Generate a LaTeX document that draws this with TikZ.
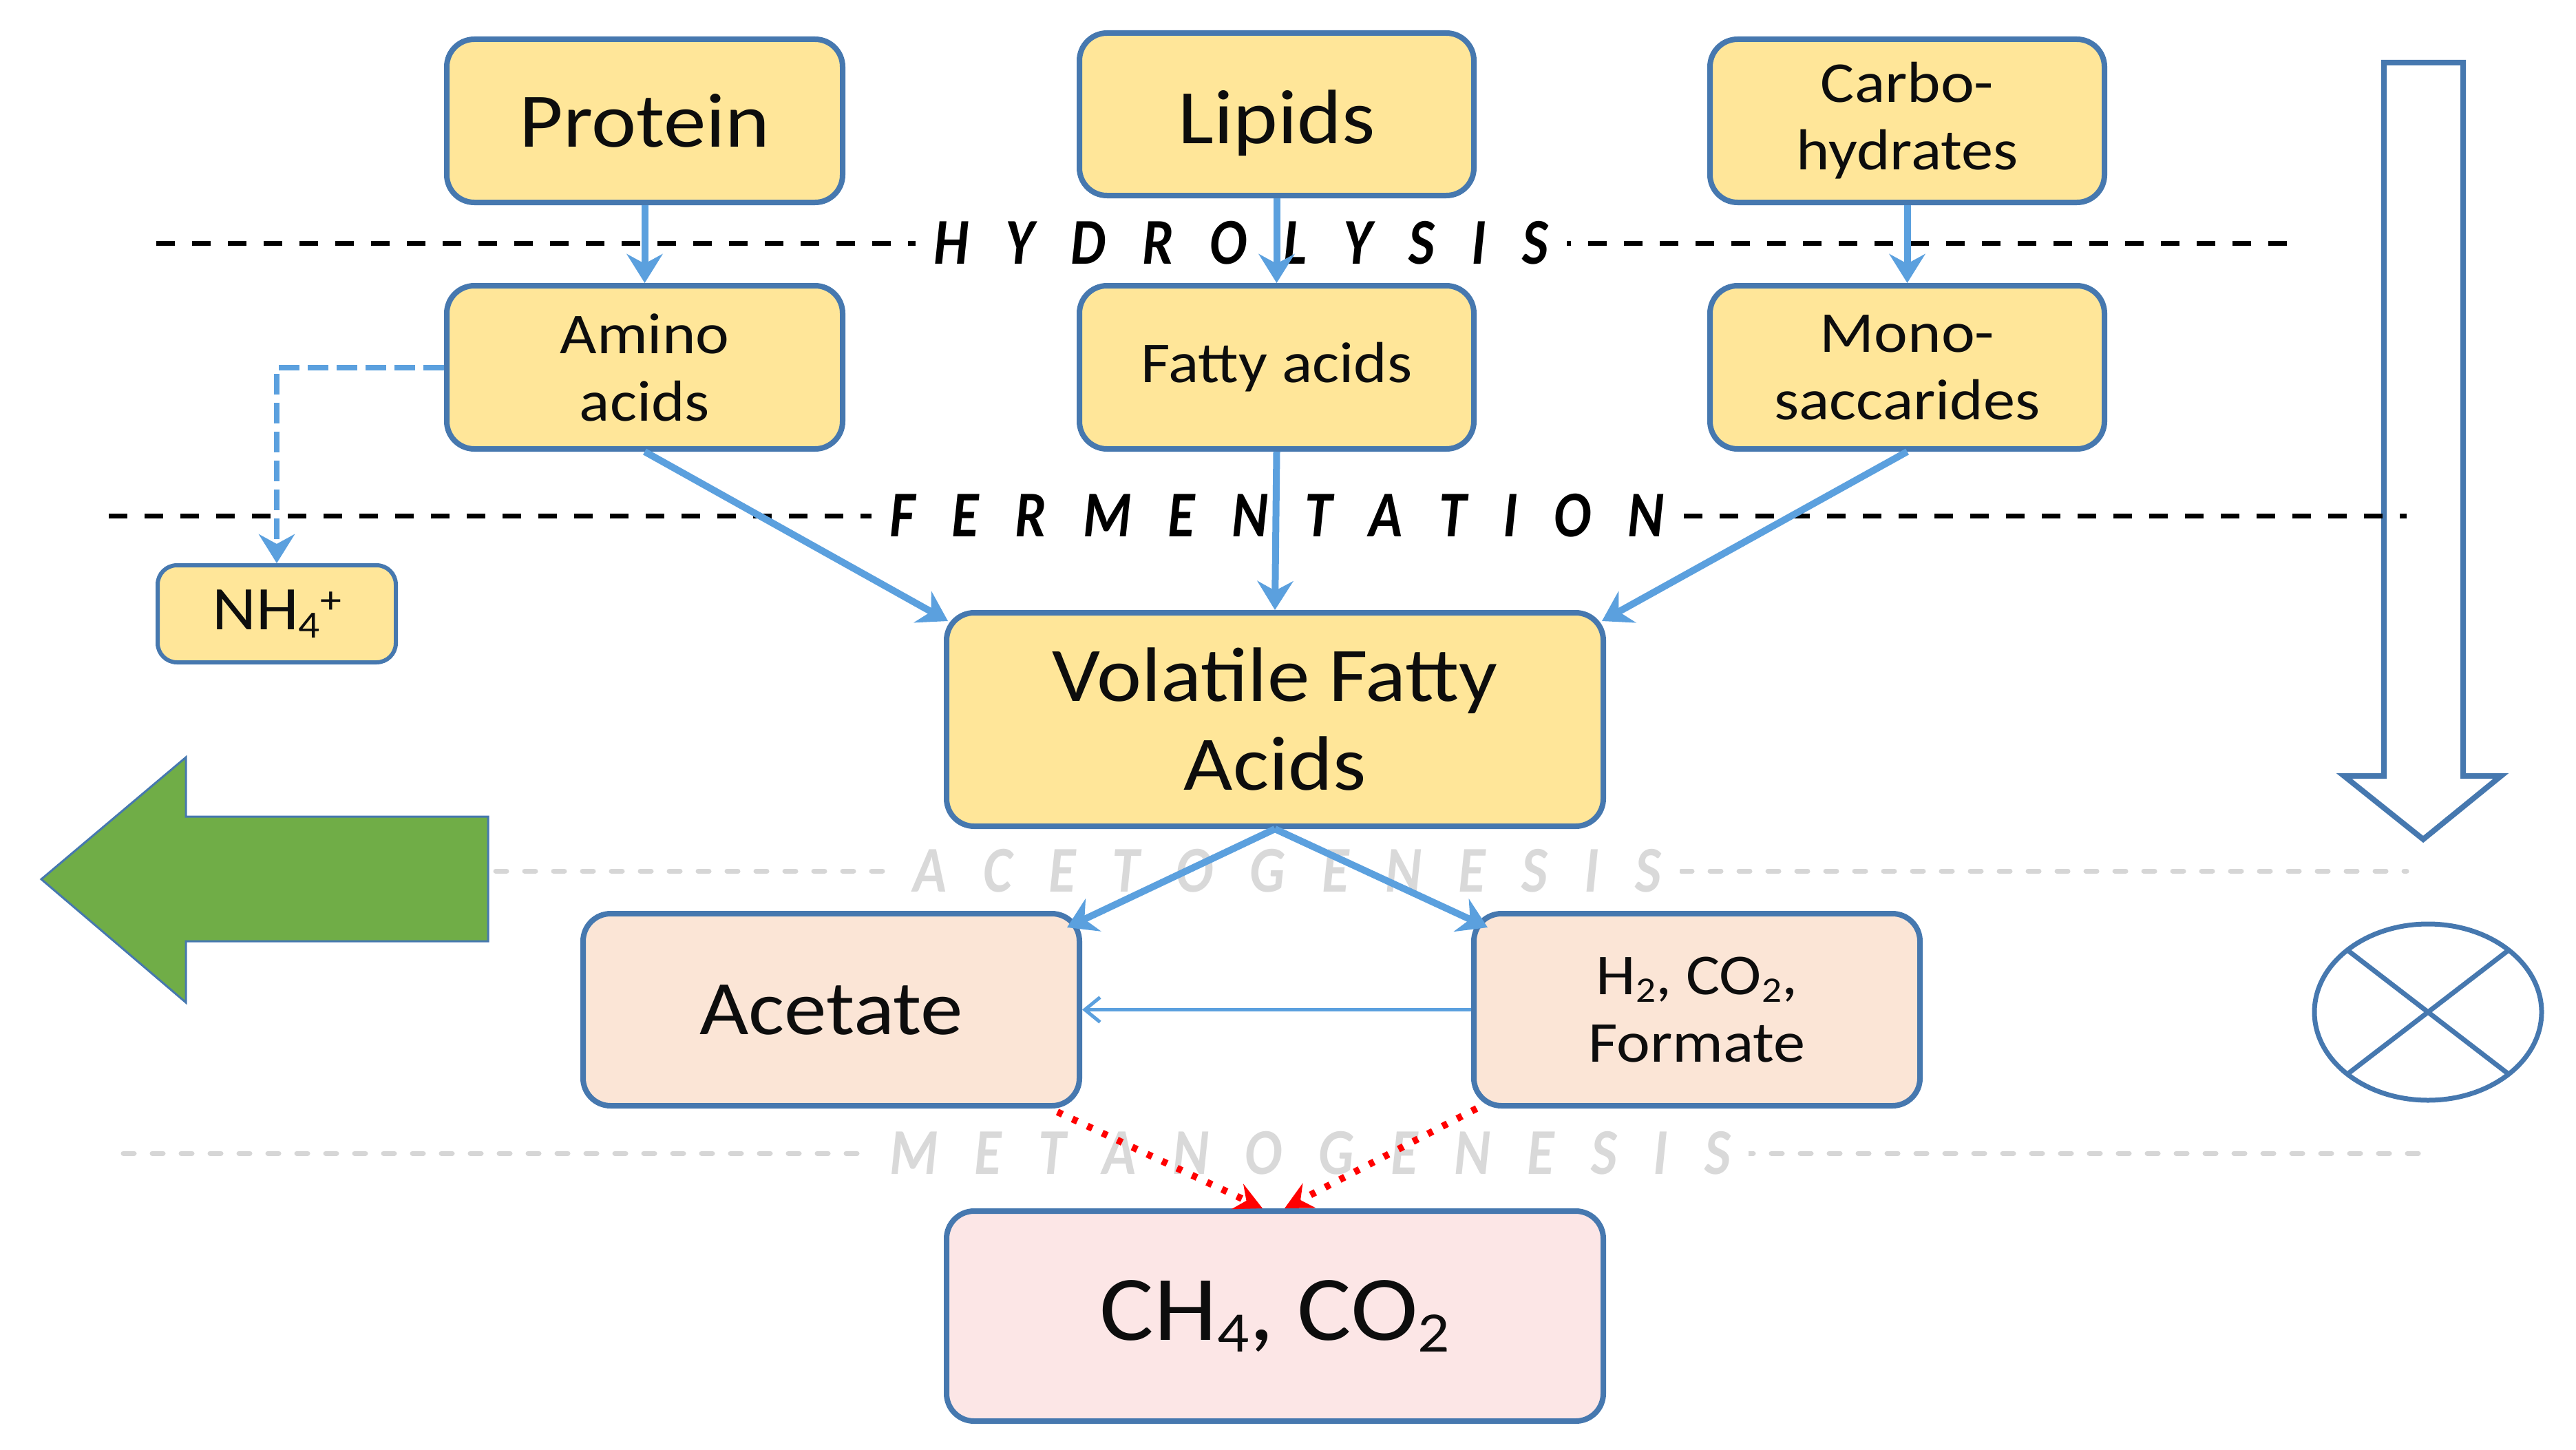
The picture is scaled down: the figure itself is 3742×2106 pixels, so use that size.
\documentclass[tikz,border=0pt]{standalone}
\usepackage{fontspec}
\setmainfont{Carlito}[FakeStretch=1.1]
\newfontfamily\phasefont{Carlito}[FakeStretch=0.85]
\usetikzlibrary{arrows.meta,calc}
\definecolor{yfill}{RGB}{255,230,153}
\definecolor{pfill}{RGB}{251,229,214}
\definecolor{cfill}{RGB}{252,230,230}
\definecolor{bline}{RGB}{70,120,175}
\definecolor{ablue}{RGB}{91,160,222}
\definecolor{garrow}{RGB}{112,173,71}
\definecolor{txt}{RGB}{13,13,13}
\makeatletter
\newlength\phgap \setlength\phgap{53pt}
\def\ph@loop#1{\ifx#1\relax\else\kern.5\phgap#1\kern.5\phgap\expandafter\ph@loop\fi}
\newcommand\phasetext[1]{\ph@loop#1\relax}
\makeatother
\newcommand\sbs[1]{\raisebox{-0.28ex}{\fontsize{0.62\dimexpr\fontdimen6\font\relax}{0}\selectfont #1}}
\begin{document}
\begin{tikzpicture}[x=1pt,y=-1pt,
  box/.style={draw=bline, line width=8pt, rounded corners=40pt, inner sep=0pt, align=center, text=txt},
  ybox/.style={box, fill=yfill},
  pbox/.style={box, fill=pfill},
  cbox/.style={box, fill=cfill},
  big/.style={font=\fontsize{112}{129}\selectfont},
  mid/.style={font=\fontsize{84}{98}\selectfont},
  phase/.style={fill=white, inner sep=0pt, font=\phasefont\fontsize{95}{95}\selectfont\bfseries\itshape},
  blackline/.style={draw=black, line width=7pt, dash pattern=on 27pt off 25pt},
  grayline/.style={draw=black!16, line width=7pt, dash pattern=on 16pt off 26pt, line cap=round},
  flow/.style={draw=ablue, line width=10pt, -{Stealth[length=42pt,width=52pt,inset=14pt]}},
  flowdash/.style={flow, line width=8pt, dash pattern=on 30pt off 12pt},
  thinflow/.style={draw=ablue, line width=5pt, -{Straight Barb[length=22pt,width=36pt,line width=5pt]}},
  redflow/.style={draw=red, line width=10pt, dash pattern=on 8pt off 16pt, -{Stealth[length=40pt,width=40pt,inset=14pt]}}
]
\useasboundingbox (0,0) rectangle (3742,2106);

% right-side hollow arrow and crossed ellipse
\draw[draw=bline, line width=8pt, line join=miter] (3463,91) -- (3578,91) -- (3578,1127) -- (3633,1127) -- (3520,1219) -- (3405,1127) -- (3463,1127) -- cycle;
\draw[draw=bline, line width=7pt] (3527,1470) ellipse [x radius=165pt, y radius=128pt];
\draw[draw=bline, line width=7pt] (3410,1380) -- (3644,1560);
\draw[draw=bline, line width=7pt] (3410,1560) -- (3644,1380);

% phase lines
\coordinate (hA) at (227,353);  \coordinate (hB) at (3329,353);
\coordinate (fA) at (158,749);  \coordinate (fB) at (3496,749);
\coordinate (aA) at (300,1265); \coordinate (aB) at (3496,1265);
\coordinate (mA) at (179,1675); \coordinate (mB) at (3532,1675);
\draw[blackline] (hA) -- (hB);
\draw[blackline] (fA) -- (fB);
\draw[grayline] (aA) -- (aB);
\draw[grayline] (mA) -- (mB);

\node[phase, text=black] (hyd) at (1803,353) {\phasetext{HYDROLYSIS}};
\node[phase, text=black] (fer) at (1855,749) {\phasetext{FERMENTATION}};
\node[phase, text=black!15] (ace) at (1870,1265) {\phasetext{ACETOGENESIS}};
\node[phase, text=black!15] (met) at (1903,1675) {\phasetext{METANOGENESIS}};

% green arrow
\draw[fill=garrow, draw=bline, line width=3pt] (709,1186) -- (270,1186) -- (270,1100) -- (60,1277) -- (270,1456) -- (270,1367) -- (709,1367) -- cycle;

% boxes
\node[ybox, big, minimum width=575pt, minimum height=237pt] (protein) at (936.5,175.5) {Protein};
\node[ybox, big, minimum width=573pt, minimum height=236pt] (lipids) at (1854.5,166) {\raisebox{-42pt}[0pt][0pt]{Lipids}};
\node[ybox, mid, minimum width=573pt, minimum height=237pt] (carbo) at (2770.5,175.5) {Carbo-\\hydrates};
\node[ybox, mid, minimum width=575pt, minimum height=237pt] (amino) at (936.5,533.5) {Amino\\acids};
\node[ybox, mid, minimum width=573pt, minimum height=237pt] (fatty) at (1854.5,533.5) {Fatty acids};
\node[ybox, mid, minimum width=573pt, minimum height=237pt] (mono) at (2770.5,533.5) {Mono-\\saccarides};
\node[ybox, font=\fontsize{90}{98}\selectfont, line width=6pt, rounded corners=28pt, minimum width=346pt, minimum height=141pt] (nh4) at (402,891.5) {NH\sbs{4}\raisebox{0.55ex}{\fontsize{56}{0}\selectfont +}};
\node[ybox, big, minimum width=954pt, minimum height=310pt] (vfa) at (1852,1045) {Volatile Fatty\\Acids};
\node[pbox, big, minimum width=721pt, minimum height=279pt] (acetate) at (1207.5,1466.5) {Acetate};
\node[pbox, mid, minimum width=648pt, minimum height=279pt] (h2) at (2465,1466.5) {H\sbs{2}, CO\sbs{2},\\Formate};
\node[cbox, font=\fontsize{134}{150}\selectfont, minimum width=954pt, minimum height=305pt] (ch4) at (1852,1911.5) {CH\sbs{4}, CO\sbs{2}};

% connectors
\draw[flow] (protein.south) -- (amino.north);
\draw[flow] (lipids.south) -- (fatty.north);
\draw[flow] (carbo.south) -- (mono.north);
\draw[flow] (amino.south) -- ([shift={(6,16)}]vfa.north west);
\draw[flow] (fatty.south) -- (vfa.north);
\draw[flow] (mono.south) -- ([shift={(-6,16)}]vfa.north east);
\draw[flowdash] (amino.west) -- (nh4.north |- amino.west) -- (nh4.north);
\draw[flow] (vfa.south) -- ([shift={(-22,24)}]acetate.north east);
\draw[flow] (vfa.south) -- ([shift={(24,24)}]h2.north west);
\draw[thinflow] (h2.west) -- (acetate.east);
\draw[redflow] ([shift={(-36,5)}]acetate.south east) -- ([xshift=-18pt]ch4.north);
\draw[redflow] ([shift={(8,0)}]h2.south west) -- ([xshift=14pt]ch4.north);
\end{tikzpicture}
\end{document}
